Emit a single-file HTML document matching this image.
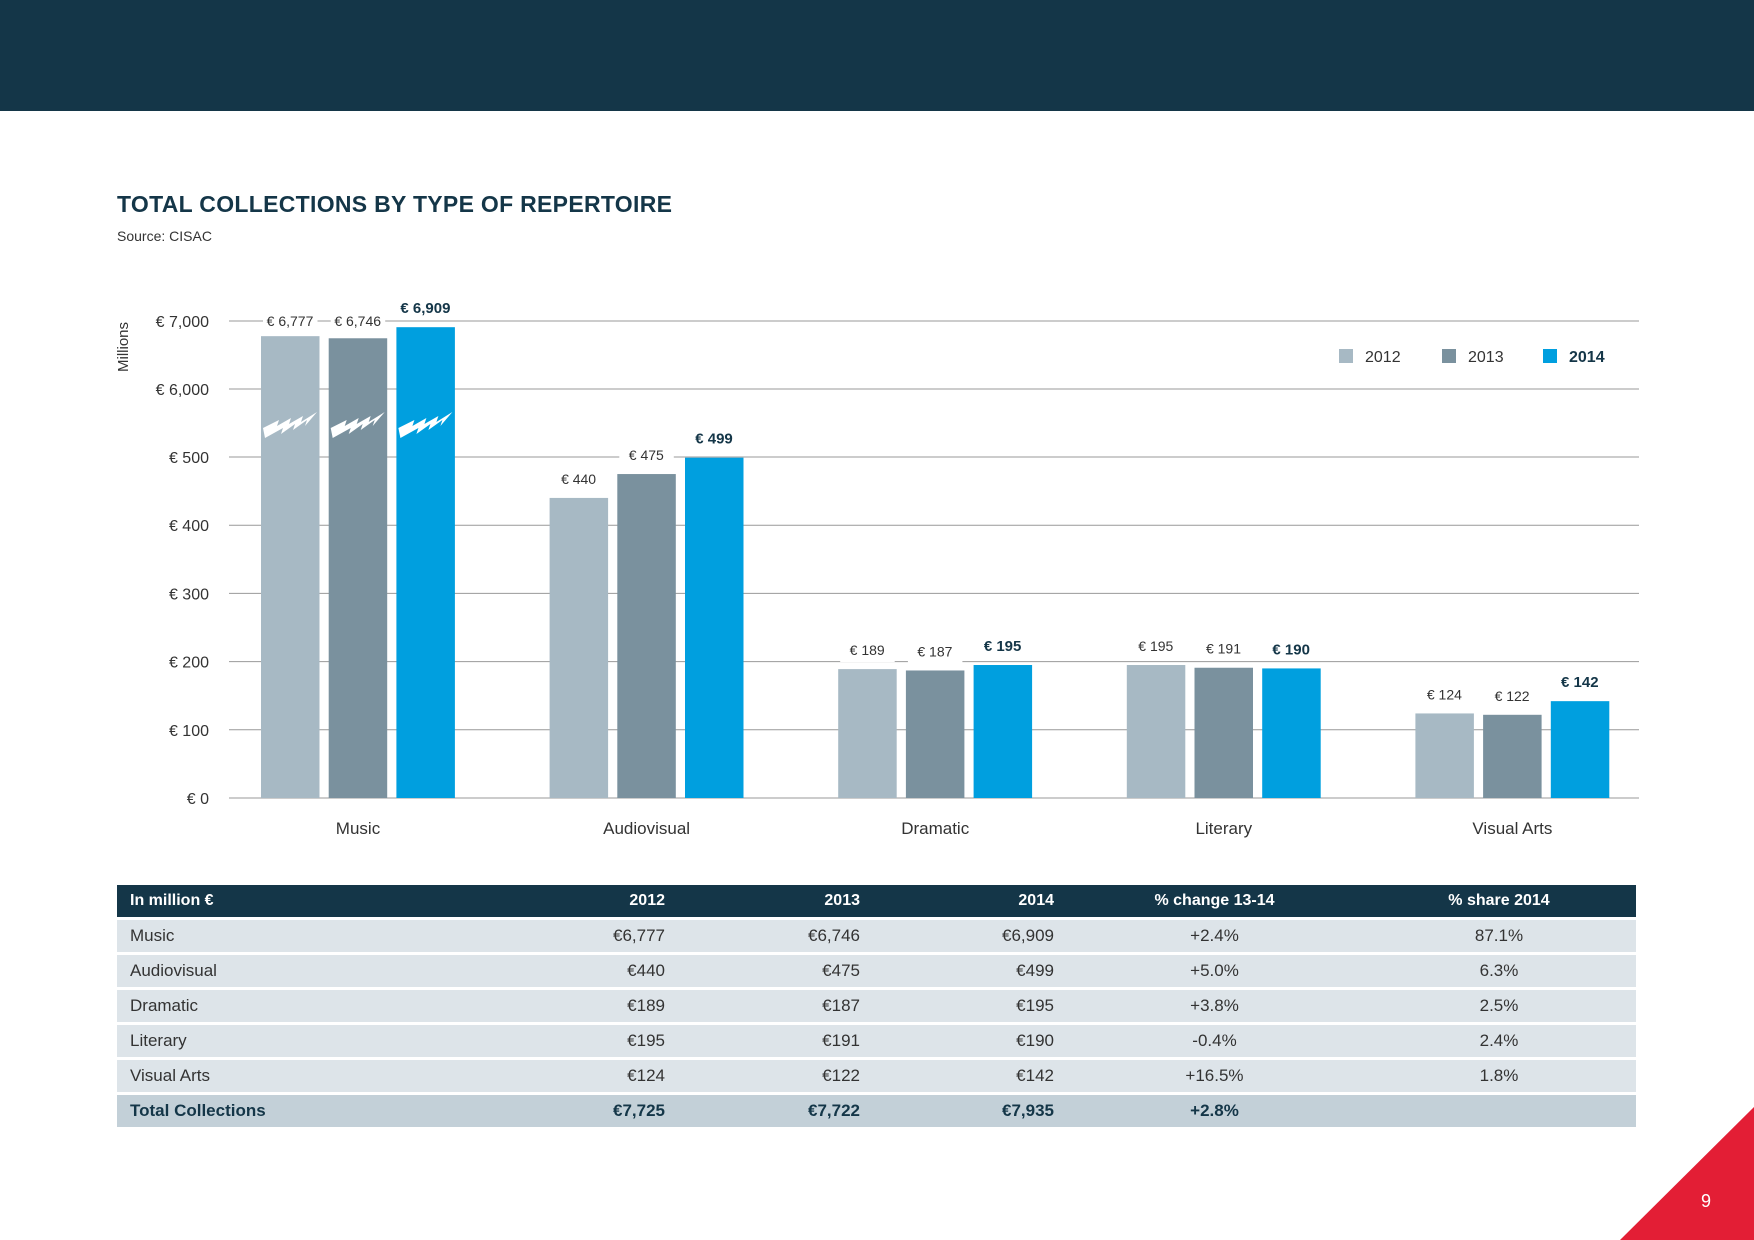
<!DOCTYPE html>
<html><head><meta charset="utf-8"><style>
body{margin:0;width:1754px;height:1240px;background:#fff;font-family:"Liberation Sans",sans-serif;position:relative;overflow:hidden}
#hdr{position:absolute;left:0;top:0;width:1754px;height:111px;background:#143648}
#title{position:absolute;left:117px;top:191px;font-size:23px;font-weight:bold;color:#143648;letter-spacing:0.3px}
#src{position:absolute;left:117px;top:228px;font-size:14px;color:#333}
table{position:absolute;left:117px;top:882px;width:1519px;border-collapse:separate;border-spacing:0 3px;font-size:17px;color:#333}
td{height:32px;padding:0 13px;background:#dde4e9}
tr.h td{background:#143648;color:#fff;font-weight:bold;font-size:16px}
tr.t td{background:#c3d0d8;font-weight:bold;color:#143648}
.r{text-align:right}.c{text-align:center}
</style></head><body>
<div id="hdr"></div>
<div id="title">TOTAL COLLECTIONS BY TYPE OF REPERTOIRE</div>
<div id="src">Source: CISAC</div>
<svg id="chart" width="1754" height="870" style="position:absolute;left:0;top:0"></svg>
<table>
<colgroup><col style="width:230px"><col style="width:331px"><col style="width:195px"><col style="width:194px"><col style="width:295px"><col></colgroup>
<tr class="h"><td>In million €</td><td class="r">2012</td><td class="r">2013</td><td class="r">2014</td><td class="c">% change 13-14</td><td class="c">% share 2014</td></tr>
<tr><td>Music</td><td class="r">€6,777</td><td class="r">€6,746</td><td class="r">€6,909</td><td class="c">+2.4%</td><td class="c">87.1%</td></tr>
<tr><td>Audiovisual</td><td class="r">€440</td><td class="r">€475</td><td class="r">€499</td><td class="c">+5.0%</td><td class="c">6.3%</td></tr>
<tr><td>Dramatic</td><td class="r">€189</td><td class="r">€187</td><td class="r">€195</td><td class="c">+3.8%</td><td class="c">2.5%</td></tr>
<tr><td>Literary</td><td class="r">€195</td><td class="r">€191</td><td class="r">€190</td><td class="c">-0.4%</td><td class="c">2.4%</td></tr>
<tr><td>Visual Arts</td><td class="r">€124</td><td class="r">€122</td><td class="r">€142</td><td class="c">+16.5%</td><td class="c">1.8%</td></tr>
<tr class="t"><td>Total Collections</td><td class="r">€7,725</td><td class="r">€7,722</td><td class="r">€7,935</td><td class="c">+2.8%</td><td></td></tr>
</table>
<svg width="1754" height="1240" style="position:absolute;left:0;top:0;pointer-events:none">
<polygon points="1754,1107 1754,1240 1620,1240" fill="#e31e35"/>
<text x="1706" y="1207" fill="#fff" font-size="18" text-anchor="middle" font-family="Liberation Sans">9</text>
</svg>
<script>
const categories=["Music","Audiovisual","Dramatic","Literary","Visual Arts"];
const years=["2012","2013","2014"];
const v2012=[6777,440,189,195,124];
const v2013=[6746,475,187,191,122];
const v2014=[6909,499,195,190,142];
const tickVals=[0,100,200,300,400,500,6000,7000];
const tickLabels=["€ 0","€ 100","€ 200","€ 300","€ 400","€ 500","€ 6,000","€ 7,000"];
const colors=["#a7b9c4","#7a919e","#009fdf"];
const NS="http://www.w3.org/2000/svg";
const svg=document.getElementById('chart');
function mk(t,a){const e=document.createElementNS(NS,t);for(const k in a)e.setAttribute(k,a[k]);svg.appendChild(e);return e;}
function y(v){if(v<=500)return 798-v/500*341;if(v>=6000)return 389-(v-6000)/1000*68;return 457-(v-500)/5500*68;}
function gx(i){return 261+i*288.6;}
tickVals.forEach((v,i)=>{
 const l=mk('line',{x1:229,x2:1639,y1:y(v),y2:y(v),stroke:'#999','stroke-width':1});
 
 
 const t=mk('text',{x:209,y:y(v)+6,'text-anchor':'end','font-size':16,fill:'#333'});
 t.textContent=tickLabels[i];
 
 
});
const yt=mk('text',{transform:'translate(128,347) rotate(-90)','text-anchor':'middle','font-size':15,fill:'#333'});
yt.textContent='Millions';


const series=[v2012,v2013,v2014];
categories.forEach((c,i)=>{
 series.forEach((s,j)=>{
  const x=gx(i)+j*67.7, top=y(s[i]);
  const r=mk('rect',{x:x,y:top,width:58.5,height:798-top,fill:colors[j]});
  
  
  const ly=(i==0&&j<2)?y(7000):top-14;
  if(j<2){const bg=mk('rect',{x:x+2,y:ly-11,width:54.5,height:18,fill:'#fff'});}
  const t=mk('text',{x:x+29,y:(i==0&&j<2)?ly+5:ly,'text-anchor':'middle','font-size':j==2?15:14,'font-weight':j==2?'bold':'normal',fill:j==2?'#143648':'#333'});
  t.textContent='€ '+s[i].toLocaleString('en-US');
  
  
  if(i==0){const b=mk('path',{d:`M${x+2} ${y(6000)+39} l16 -8 l-2 6 l14 -8 l-2 6 l14 -8 l-2 6 l16 -10 l-12 14 l2 -6 l-14 10 l2 -6 l-14 10 l2 -6 l-18 10 z`,fill:'#fff'});}
 });
 const t=mk('text',{x:gx(i)+97,y:834,'text-anchor':'middle','font-size':17,fill:'#333'});
 t.textContent=c;
 
 
});
const lx=[1339,1442,1543];
years.forEach((yr,j)=>{
 const r=mk('rect',{x:lx[j],y:349,width:14,height:14,fill:colors[j]});
 
 
 const t=mk('text',{x:lx[j]+26,y:362,'font-size':16,'font-weight':j==2?'bold':'normal',fill:j==2?'#143648':'#333'});
 t.textContent=yr;
 
 
});
</script>
</body></html>
